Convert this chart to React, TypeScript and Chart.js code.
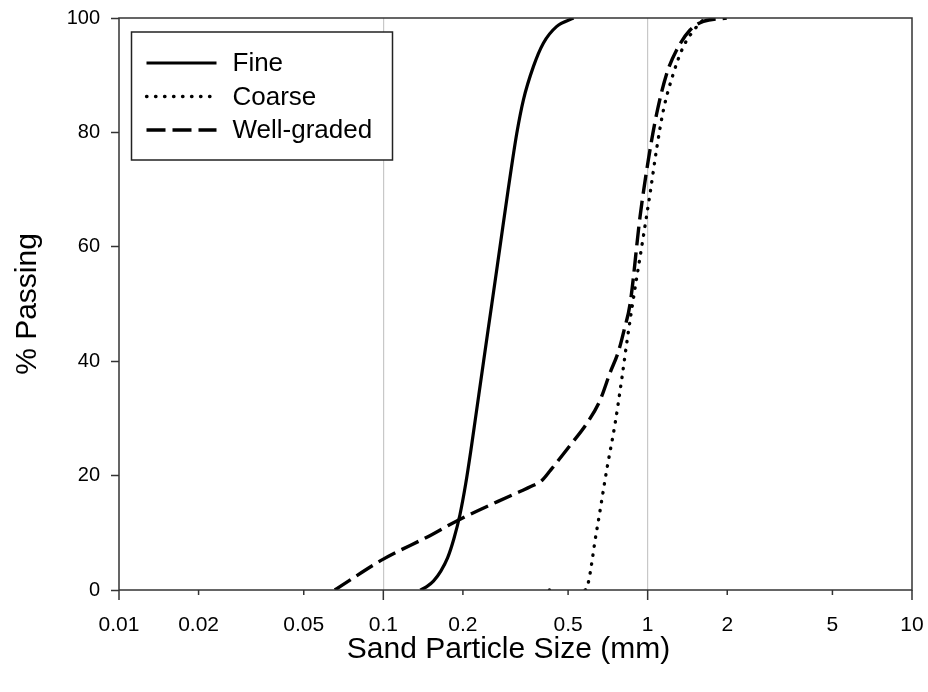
import React, { useEffect, useRef } from 'react';
import { Chart, registerables } from 'chart.js';

Chart.register(...registerables);

// ---- data ----
const seriesNames = ['Fine', 'Coarse', 'Well-graded'];

const fineSize = [0.138, 0.146, 0.155, 0.165, 0.175, 0.185, 0.195, 0.205, 0.2153, 0.2231, 0.2395, 0.2573, 0.2763, 0.2967, 0.3197, 0.3388, 0.3695, 0.403, 0.452, 0.524];
const finePassing = [0, 0.6, 1.6, 3.3, 5.6, 9.0, 13.2, 18.6, 25, 30, 40, 50, 60, 70, 79.8, 85.7, 91.5, 95.6, 98.5, 100];

const coarseSize = [0.425, 0.58, 0.642, 0.7, 0.753, 0.797, 0.833, 0.87, 0.963, 1.021, 1.082, 1.147, 1.251, 1.365, 1.534, 1.65];
const coarsePassing = [0, 0, 10.5, 21, 29.1, 36.7, 43.1, 49, 61.8, 69.3, 77.2, 83.9, 90.3, 95, 98.5, 100];

const wellSize = [0.0655, 0.1, 0.15, 0.192, 0.3, 0.37, 0.395, 0.43, 0.509, 0.588, 0.661, 0.721, 0.774, 0.815, 0.858, 0.936, 1.006, 1.082, 1.181, 1.287, 1.447, 1.624, 1.99];
const wellPassing = [0, 5.4, 9.5, 12.2, 16.4, 18.3, 19.0, 21.0, 25.3, 29.1, 33.2, 38.0, 41.6, 45.5, 50, 65.3, 75.2, 83.3, 90.3, 94.4, 97.9, 99.4, 100];

const xTickValues = [0.01, 0.02, 0.05, 0.1, 0.2, 0.5, 1, 2, 5, 10];
const xTickLabels = ['0.01', '0.02', '0.05', '0.1', '0.2', '0.5', '1', '2', '5', '10'];
const xGridValues = [0.1, 1];
const yMin = 0;
const yMax = 100;
const yStep = 20;

const xTitle = 'Sand Particle Size (mm)';
const yTitle = '% Passing';

const FONT = '"Liberation Sans", Arial, Helvetica, sans-serif';
const AXIS_COLOR = '#333';

const toPoints = (xs: number[], ys: number[]) => xs.map((x, i) => ({ x, y: ys[i] }));

const framePlugin = {
  id: 'frame',
  afterDatasetsDraw(chart: any) {
    const { ctx, chartArea } = chart;
    const xs = chart.scales.x;
    ctx.save();
    ctx.strokeStyle = AXIS_COLOR;
    ctx.lineWidth = 1.5;
    ctx.setLineDash([]);
    ctx.strokeRect(chartArea.left, chartArea.top, chartArea.right - chartArea.left, chartArea.bottom - chartArea.top);
    // x tick marks (longer at decades)
    ctx.beginPath();
    xTickValues.forEach((v) => {
      const px = xs.getPixelForValue(v);
      const lg = Math.log10(v);
      const major = Math.abs(lg - Math.round(lg)) < 1e-9;
      ctx.moveTo(px, chartArea.bottom);
      ctx.lineTo(px, chartArea.bottom + (major ? 10 : 5));
    });
    ctx.stroke();
    // x axis title
    ctx.fillStyle = '#000';
    ctx.font = `30px ${FONT}`;
    ctx.textAlign = 'center';
    ctx.textBaseline = 'middle';
    ctx.fillText(xTitle, (chartArea.left + chartArea.right) / 2 - 7, 650);
    ctx.restore();
  },
};

const legendPlugin = {
  id: 'boxLegend',
  afterDraw(chart: any) {
    const { ctx, chartArea } = chart;
    const x0 = chartArea.left + 12.5;
    const y0 = chartArea.top + 14;
    const w = 261;
    const h = 128;
    ctx.save();
    ctx.fillStyle = '#fff';
    ctx.fillRect(x0, y0, w, h);
    ctx.strokeStyle = '#222';
    ctx.lineWidth = 1.5;
    ctx.setLineDash([]);
    ctx.strokeRect(x0, y0, w, h);
    chart.data.datasets.forEach((ds: any, i: number) => {
      const y = y0 + 31 + i * 33.5;
      ctx.beginPath();
      ctx.setLineDash(ds.borderDash || []);
      ctx.lineCap = ds.borderCapStyle || 'butt';
      ctx.lineWidth = ds.borderWidth;
      ctx.strokeStyle = ds.borderColor;
      ctx.moveTo(x0 + 15, y);
      ctx.lineTo(x0 + 85, y);
      ctx.stroke();
      ctx.setLineDash([]);
      ctx.fillStyle = '#000';
      ctx.font = `26px ${FONT}`;
      ctx.textBaseline = 'middle';
      ctx.textAlign = 'left';
      ctx.fillText(ds.label, x0 + 101, y + 1);
    });
    ctx.restore();
  },
};

export default function App() {
  const canvasRef = useRef<HTMLCanvasElement | null>(null);

  useEffect(() => {
    const canvas = canvasRef.current;
    if (!canvas) return;
    const chart = new Chart(canvas, {
      type: 'scatter',
      data: {
        datasets: [
          {
            label: seriesNames[0],
            data: toPoints(fineSize, finePassing),
            showLine: true,
            borderColor: '#000',
            backgroundColor: '#000',
            borderWidth: 3.2,
            pointRadius: 0,
            cubicInterpolationMode: 'monotone',
          },
          {
            label: seriesNames[1],
            data: toPoints(coarseSize, coarsePassing),
            showLine: true,
            borderColor: '#000',
            backgroundColor: '#000',
            borderWidth: 3.3,
            borderDash: [0.5, 8.5],
            borderCapStyle: 'round',
            pointRadius: (c: any) => (c.dataIndex === 0 ? 1.7 : 0),
            pointBorderWidth: 0,
            pointBackgroundColor: '#000',
            cubicInterpolationMode: 'monotone',
            segment: {
              borderColor: (c: any) => (c.p0DataIndex === 0 ? 'rgba(0,0,0,0)' : undefined),
            },
          },
          {
            label: seriesNames[2],
            data: toPoints(wellSize, wellPassing),
            showLine: true,
            borderColor: '#000',
            backgroundColor: '#000',
            borderWidth: 3.4,
            borderDash: [19, 7],
            pointRadius: 0,
            cubicInterpolationMode: 'monotone',
          },
        ] as any,
      },
      options: {
        animation: false,
        responsive: false,
        devicePixelRatio: 1,
        events: [],
        layout: { padding: { left: 0, right: 16, top: 18, bottom: 0 } },
        plugins: {
          legend: { display: false },
          tooltip: { enabled: false },
        },
        scales: {
          x: {
            type: 'logarithmic',
            min: 0.01,
            max: 10,
            afterBuildTicks: (scale: any) => {
              scale.ticks = xTickValues.map((v) => ({ value: v }));
            },
            afterFit: (scale: any) => {
              scale.height = 102;
              scale.paddingLeft = 0;
              scale.paddingRight = 0;
            },
            ticks: {
              autoSkip: false,
              maxRotation: 0,
              minRotation: 0,
              padding: 23,
              color: '#000',
              font: { family: FONT, size: 21 },
              callback: (v: any) => {
                const i = xTickValues.indexOf(Number(v));
                return i >= 0 ? xTickLabels[i] : '';
              },
            },
            grid: {
              drawTicks: false,
              lineWidth: 1.2,
              color: (c: any) =>
                c.tick && xGridValues.includes(c.tick.value) ? '#c8c8c8' : 'rgba(0,0,0,0)',
            },
            border: { display: false },
            title: { display: false },
          },
          y: {
            type: 'linear',
            min: yMin,
            max: yMax,
            afterFit: (scale: any) => {
              scale.width = 119;
              scale.paddingTop = 0;
              scale.paddingBottom = 0;
            },
            ticks: {
              stepSize: yStep,
              padding: 11,
              color: '#000',
              font: { family: FONT, size: 20 },
            },
            grid: {
              drawTicks: true,
              tickLength: 8,
              tickWidth: 1.5,
              tickColor: AXIS_COLOR,
              color: 'rgba(0,0,0,0)',
            },
            border: { display: false },
            title: {
              display: true,
              text: yTitle,
              color: '#000',
              font: { family: FONT, size: 30 },
              padding: { top: 10, bottom: 0 },
            },
          },
        },
      } as any,
      plugins: [framePlugin, legendPlugin],
    });
    return () => chart.destroy();
  }, []);

  return (
    <div style={{ position: 'fixed', left: 0, top: 0, width: 928, height: 692, background: '#fff' }}>
      <canvas ref={canvasRef} width={928} height={692} style={{ display: 'block' }} />
    </div>
  );
}
